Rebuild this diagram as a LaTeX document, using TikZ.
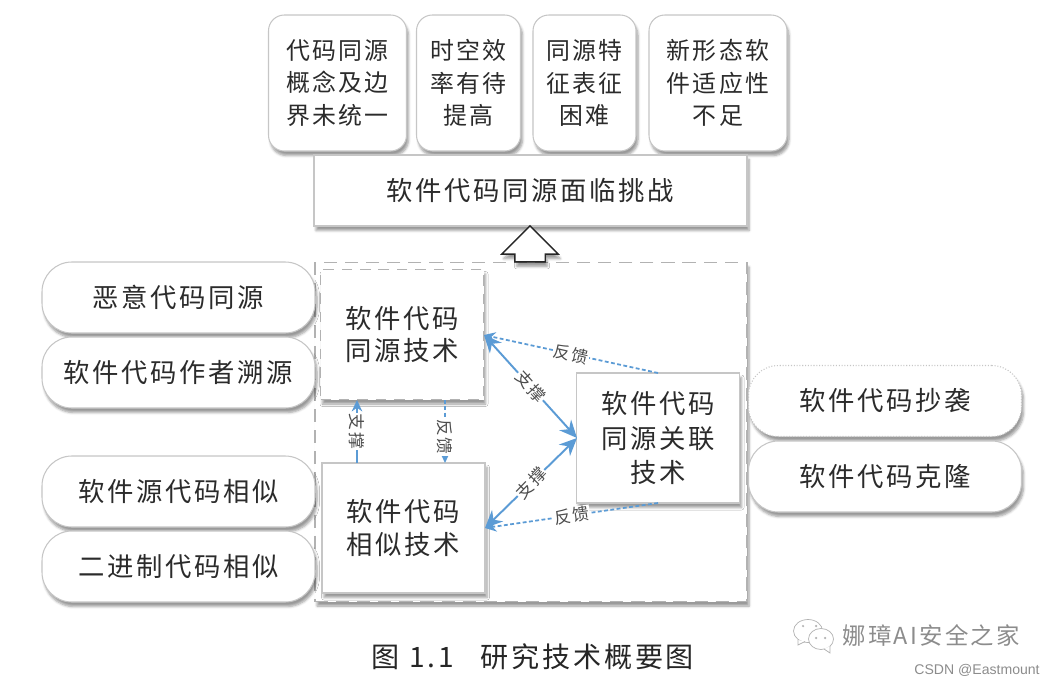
\documentclass[tikz,border=0pt]{standalone}
\usepackage{fontspec}
\setmainfont[LetterSpace=10]{Noto Sans CJK SC}
\setsansfont{Liberation Sans}
\usepackage{xcolor}
\usetikzlibrary{arrows.meta,shadows.blur,shapes.arrows}
\definecolor{linegray}{HTML}{C6C6C6}
\definecolor{flowblue}{HTML}{5B9BD5}
\definecolor{inkgray}{HTML}{2B2B2B}
\begin{document}
\begin{tikzpicture}[
	font=\fontsize{15}{18.4}\selectfont,
	text=inkgray,
	softshadow/.style={blur shadow={shadow xshift=0.04cm, shadow yshift=-0.09cm, shadow blur radius=0.05cm, shadow blur steps=5, shadow opacity=40}},
	issue/.style={
		rectangle, rounded corners=9pt,
		draw=linegray, fill=white, semithick, softshadow,
		align=center, inner sep=0pt, font=\fontsize{13.6}{18.4}\selectfont
	},
	headbox/.style={
		rectangle,
		draw=linegray, fill=white, semithick, softshadow,
		minimum width=8.66cm, minimum height=1.42cm, align=center
	},
	techbox/.style={
		rectangle,
		draw=linegray, fill=white, line width=1.1pt, softshadow,
		minimum width=3.26cm, minimum height=2.6cm, align=center, inner sep=0pt
	},
	dashbox/.style={techbox, draw=black!30, dash pattern=on 6pt off 4.5pt},
	pill/.style={
		rectangle, rounded corners=17pt,
		draw=linegray, fill=white, semithick, softshadow,
		minimum width=5.46cm, minimum height=1.42cm, align=center, inner sep=0pt
	},
	outerbox/.style={
		rectangle, draw=black!30, line width=1.1pt, dash pattern=on 7.5pt off 4.5pt, softshadow, fill=white,
		minimum width=8.64cm, minimum height=6.78cm
	},
	bigarrow/.style={
		single arrow, draw=black!85, fill=white, thick, softshadow,
		single arrow tip angle=90, single arrow head extend=0.26cm,
		shape border rotate=90, minimum height=0.72cm, minimum width=1.1cm, inner sep=0pt,
		text width=0.58cm
	},
	arr/.style={{Stealth[length=10pt,width=9pt]}-{Stealth[length=10pt,width=9pt]}, flowblue, line width=1.1pt},
	uparr/.style={-{Stealth[length=6.5pt,width=6pt]}, flowblue, line width=1.1pt},
	darr/.style={-{Stealth[length=6.5pt,width=6pt]}, flowblue, line width=1pt, dash pattern=on 2.2pt off 1.4pt},
	lbl/.style={font=\fontsize{9.5}{10}\selectfont, fill=white, inner sep=0.5pt, text=black!70},
	iconline/.style={draw=black!30, fill=white, thin}
	]
	\node[issue, minimum width=2.76cm, minimum height=2.72cm] (concept) at (6.75, -1.66) {代码同源\\概念及边\\界未统一};
	\node[issue, minimum width=2.08cm, minimum height=2.72cm] (effect) at (9.37, -1.66) {时空效\\率有待\\提高};
	\node[issue, minimum width=2.06cm, minimum height=2.72cm] (feature) at (11.69, -1.66) {同源特\\征表征\\困难};
	\node[issue, minimum width=2.76cm, minimum height=2.72cm] (adapt) at (14.36, -1.66) {新形态软\\件适应性\\不足};
	\node[headbox] (challenge) at (10.61, -3.81) {软件代码同源面临挑战};
	
	\node[outerbox] (tech) at (10.62, -8.64) {};
	\node[bigarrow] (up) at (10.60, -5.03) {};
	
	\node[dashbox] (homo) at (8.04, -6.69) {软件代码\\同源技术};
	\node[techbox] (simi) at (8.07, -10.56) {软件代码\\相似技术};
	\node[techbox, font=\fontsize{15}{19.8}\selectfont] (rela) at (13.16, -8.76) {软件代码\\同源关联\\技术};
	
	\node[pill] (p1) at (3.57, -5.95) {恶意代码同源};
	\node[pill] (p2) at (3.57, -7.45) {软件代码作者溯源};
	\node[pill] (p3) at (3.57, -9.83) {软件源代码相似};
	\node[pill] (p4) at (3.57, -11.33) {二进制代码相似};
	\node[pill, densely dotted] (p5) at (17.70, -8.02) {软件代码抄袭};
	\node[pill] (p6) at (17.70, -9.53) {软件代码克隆};
	
	\coordinate (homoS1) at (7.14, -8.00);
	\coordinate (simiN1) at (7.14, -9.26);
	\coordinate (homoS2) at (8.90, -8.00);
	\coordinate (simiN2) at (8.90, -9.26);
	\coordinate (homoE) at (9.68, -6.70);
	\coordinate (simiE) at (9.70, -10.56);
	\coordinate (relaW) at (11.54, -8.76);
	\coordinate (relaN) at (13.16, -7.46);
	\coordinate (relaS) at (13.16, -10.06);
	\draw[arr] (homoE) -- node[lbl, rotate=-48] (l1) {支撑} (relaW);
	\draw[arr] (simiE) -- node[lbl, rotate=46] (l2) {支撑} (relaW);
	\draw[darr] (relaN) -- node[lbl, rotate=-13] (l3) {反馈} (homoE);
	\draw[darr] (relaS) -- node[lbl, rotate=8] (l4) {反馈} (simiE);
	\draw[uparr] (simiN1) -- node[lbl, rotate=-90] (l5) {支撑} (homoS1);
	\draw[darr] (homoS2) -- node[lbl, rotate=-90, pos=0.59] (l6) {反馈} (simiN2);
	
	\node[font=\fontsize{16}{18}\selectfont, text=black!85] (caption) at (10.66, -13.14) {图 1.1\hspace{0.35cm} 研究技术概要图};
	\draw[iconline] (16.16, -12.62) ellipse (0.29 and 0.23);
	\draw[iconline] (15.96, -12.80) -- (15.96, -12.90) -- (16.10, -12.83);
	\draw[iconline] (16.42, -12.78) ellipse (0.25 and 0.21);
	\draw[iconline] (16.60, -12.92) -- (16.60, -13.06) -- (16.48, -12.98);
	\fill[black!30] (16.06, -12.52) circle (0.025) (16.32, -12.52) circle (0.025) (16.32, -12.76) circle (0.025) (16.50, -12.76) circle (0.025);
	\node[font=\fontsize{13.3}{15}\selectfont, text=black!45, inner sep=0pt, anchor=west] (mark) at (16.84, -12.72) {娜璋AI安全之家};
	\node[font=\sffamily\fontsize{8}{9}\selectfont, text=black!45, inner sep=0pt, anchor=east] (csdn) at (20.80, -13.40) {CSDN @Eastmount};
	\path[use as bounding box] (0,0) rectangle (21.10,-13.68);
\end{tikzpicture}
\end{document}
